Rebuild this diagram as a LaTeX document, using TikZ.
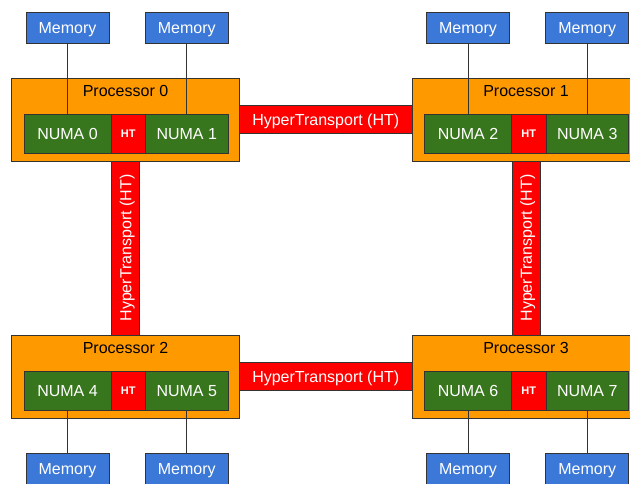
\documentclass[tikz,border=0pt]{standalone}
\usepackage{fontspec}
\setmainfont{Liberation Sans}
\usetikzlibrary{calc}
\definecolor{procfill}{HTML}{FF9900}
\definecolor{numafill}{HTML}{38761D}
\definecolor{htfill}{HTML}{FF0000}
\definecolor{memfill}{HTML}{3C78D8}
\definecolor{edge}{HTML}{333333}
\tikzset{
  box/.style={draw=edge, line width=0.8pt, inner sep=0pt, text height=11.5pt, text depth=0pt},
  proc/.style={box, fill=procfill, minimum width=228pt, minimum height=83pt},
  procname/.style={text=black, inner sep=0pt, text height=11.5pt, text depth=0pt},
  numa/.style={box, fill=numafill, text=white, minimum height=39pt},
  ht/.style={box, fill=htfill, text=white, minimum width=34.5pt, minimum height=39pt,
    font=\fontsize{11}{13}\selectfont\bfseries, text height=8pt},
  mem/.style={box, fill=memfill, text=white, minimum width=83pt, minimum height=31pt},
  link/.style={box, fill=htfill, text=white, minimum height=28pt},
  wire/.style={draw=edge, line width=0.8pt}
}

\begin{document}
\begin{tikzpicture}[x=1pt, y=-1pt, font=\fontsize{16}{19}\selectfont]
  \useasboundingbox (0,0) rectangle (630,483);
  \clip (0,0) rectangle (630,483);

  % processors with their NUMA nodes and memories
  \foreach \i/\L/\T/\M in {0/11.5/78/27.5, 1/412/78/27.5, 2/11.5/335/468.5, 3/412/335/468.5}{
    \pgfmathtruncatemacro{\a}{2*\i}
    \pgfmathtruncatemacro{\b}{2*\i+1}
    \node[proc] (p\i) at (\L+114,\T+41.5) {};
    \node[procname] (pn\i) at (\L+114,\T+13) {Processor \i};
    \node[numa, minimum width=87pt] (n\a) at (\L+56,\T+55.5) {NUMA \a};
    \node[ht] (ht\i) at (\L+116.75,\T+55.5) {HT};
    \node[numa, minimum width=82.5pt] (n\b) at (\L+175.25,\T+55.5) {NUMA \b};
    \node[mem] (m\a) at (n\a |- 0,\M) {Memory};
    \node[mem] (m\b) at (n\b |- 0,\M) {Memory};
    \draw[wire] (m\a) -- (n\a);
    \draw[wire] (m\b) -- (n\b);
  }

  % HyperTransport links
  \node[link, minimum width=172.5pt] (link01) at ($(p0.east)!0.5!(p1.west)$) {HyperTransport (HT)};
  \node[link, minimum width=172.5pt] (link23) at ($(p2.east)!0.5!(p3.west)$) {HyperTransport (HT)};
  \node[link, rotate=90, minimum width=174pt] (link02) at ($(p0.south)!0.5!(p2.north)$) {HyperTransport (HT)};
  \node[link, rotate=90, minimum width=174pt] (link13) at ($(p1.south)!0.5!(p3.north)$) {HyperTransport (HT)};
\end{tikzpicture}
\end{document}
